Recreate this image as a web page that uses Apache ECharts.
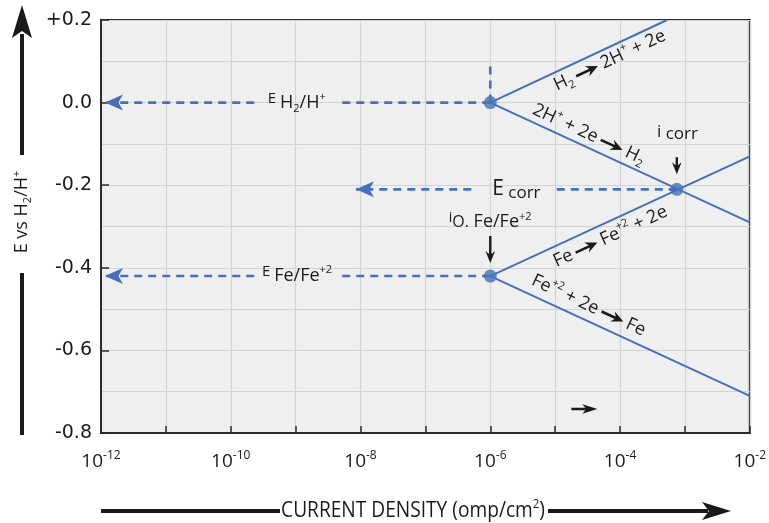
<!DOCTYPE html>
<html><head><meta charset="utf-8">
<script src="https://cdn.jsdelivr.net/npm/echarts@6/dist/echarts.min.js"></script>
<style>html,body{margin:0;padding:0;background:#fff}#c{width:769px;height:523px}</style>
</head><body><div id="c"></div>
<script>
// ---- data ----
const xLabelExponents = [-12, -10, -8, -6, -4, -2];
const yTickValues = [0.2, 0, -0.2, -0.4, -0.6, -0.8];
const yTickTexts = ['+0.2', '0.0', '-0.2', '-0.4', '-0.6', '-0.8'];
// Tafel lines [current density, potential]
const h2Anodic   = [[1e-6, 0.00], [5.3e-4, 0.20]];
const h2Cathodic = [[1e-6, 0.00], [1e-2, -0.29]];
const feAnodic   = [[1e-6, -0.42], [1e-2, -0.13]];
const feCathodic = [[1e-6, -0.42], [1e-2, -0.71]];
const keyPoints  = [[1e-6, 0.00], [1e-6, -0.42], [7.5e-4, -0.21]];
// dashed reference lines (pieces broken by the labels); last point carries the arrow
const h2Vertical = [[1e-6, 0.00], [1e-6, 0.09]];
const h2RefNear  = [[1e-6, 0.00], [4.5e-9, 0.00]];
const h2RefFar   = [[2.3e-10, 0.00], [1.15e-12, 0.00]];
const feRefNear  = [[1e-6, -0.42], [4.5e-9, -0.42]];
const feRefFar   = [[2.3e-10, -0.42], [1.15e-12, -0.42]];
const corrNear   = [[7.5e-4, -0.21], [1.03e-5, -0.21]];
const corrFar    = [[5.1e-7, -0.21], [8.5e-9, -0.21]];

const FONT = "'Open Sans', 'DejaVu Sans', sans-serif";
const BLUE = '#4670b8';
const INK = '#1a1a1a';

function solid(data) {
  return { type: 'line', data: data, symbol: 'none', lineStyle: { color: BLUE, width: 2 }, z: 3, silent: true };
}
function dashed(data, arrow) {
  return {
    type: 'line', z: 3, silent: true,
    data: data.map((p, i) => ({
      value: p,
      symbol: (arrow && i === data.length - 1) ? 'arrow' : 'none',
      symbolRotate: 90, symbolSize: [12, 18]
    })),
    showSymbol: true,
    itemStyle: { color: BLUE, borderWidth: 0 },
    lineStyle: { color: BLUE, width: 2.6, type: [8, 6] }
  };
}

const chart = echarts.init(document.getElementById('c'));
chart.setOption({
  animation: false,
  backgroundColor: '#ffffff',
  grid: { left: 101, right: 18, top: 20, bottom: 90, show: true, backgroundColor: '#efefef', borderColor: '#2a2a2a', borderWidth: 2 },
  xAxis: {
    type: 'log', logBase: 10, min: 1e-12, max: 1e-2, splitNumber: 10,
    axisLine: { show: true, onZero: false, lineStyle: { color: '#2a2a2a', width: 2 } },
    axisTick: { show: true, inside: true, length: 7, lineStyle: { color: '#2a2a2a', width: 1.5 } },
    splitLine: { show: true, lineStyle: { color: '#d3d3d3', width: 1.2 } },
    axisLabel: {
      margin: 17,
      formatter: function (v) {
        const e = Math.round(Math.log10(v));
        return xLabelExponents.indexOf(e) >= 0 ? '{b|10}{s|' + e + '}' : '';
      },
      rich: {
        b: { fontFamily: FONT, fontSize: 19, color: INK, lineHeight: 24 },
        s: { fontFamily: FONT, fontSize: 12, color: INK, verticalAlign: 'top', lineHeight: 12 }
      }
    }
  },
  yAxis: {
    type: 'value', min: -0.8, max: 0.2, interval: 0.2,
    axisLine: { show: true, onZero: false, lineStyle: { color: '#2a2a2a', width: 2 } },
    axisTick: { show: true, inside: true, length: 8, lineStyle: { color: '#2a2a2a', width: 1.5 } },
    splitLine: { show: true, lineStyle: { color: '#d3d3d3', width: 1.2 } },
    minorTick: { show: false, splitNumber: 2 },
    minorSplitLine: { show: true, lineStyle: { color: '#d3d3d3', width: 1.2 } },
    axisLabel: {
      margin: 9, color: INK, fontFamily: "'DejaVu Sans', sans-serif", fontSize: 19,
      formatter: function (v) {
        let best = 0;
        yTickValues.forEach((t, i) => { if (Math.abs(t - v) < Math.abs(yTickValues[best] - v)) best = i; });
        return yTickTexts[best];
      }
    }
  },
  series: [
    solid(h2Anodic), solid(h2Cathodic), solid(feAnodic), solid(feCathodic),
    dashed(h2Vertical, false),
    dashed(h2RefNear, false), dashed(h2RefFar, true),
    dashed(feRefNear, false), dashed(feRefFar, true),
    dashed(corrNear, false), dashed(corrFar, true),
    { type: 'scatter', data: keyPoints, symbolSize: 13, itemStyle: { color: BLUE }, z: 5, silent: true }
  ]
});

// ---- annotations ----
function px(p) { return chart.convertToPixel({ xAxisIndex: 0, yAxisIndex: 0 }, p); }
const richLbl = {
  m: { fontFamily: FONT, fontSize: 18, fill: INK, lineHeight: 23 },
  sup: { fontFamily: FONT, fontSize: 11, fill: INK, verticalAlign: 'top', lineHeight: 11 },
  sub: { fontFamily: FONT, fontSize: 11, fill: INK, verticalAlign: 'bottom', lineHeight: 11 },
  e: { fontFamily: FONT, fontSize: 15, fill: INK, verticalAlign: 'top', lineHeight: 16 },
  E: { fontFamily: FONT, fontSize: 21, fill: INK, lineHeight: 24 },
  c: { fontFamily: FONT, fontSize: 17, fill: INK, verticalAlign: 'bottom', lineHeight: 17 },
  i: { fontFamily: FONT, fontSize: 17, fill: INK, verticalAlign: 'top', lineHeight: 19 },
  io: { fontFamily: FONT, fontSize: 14, fill: INK, verticalAlign: 'top', lineHeight: 16 },
  o: { fontFamily: FONT, fontSize: 16, fill: INK, lineHeight: 21 }
};
function txt(p, text, align) {
  const q = px(p);
  return { type: 'text', x: q[0], y: q[1], z: 10, silent: true,
    style: { text: text, rich: richLbl, align: align || 'left', verticalAlign: 'middle', fill: INK, font: '18px ' + FONT } };
}
const rightArrow = [[-12, -1.3], [3, -1.3], [0, -5.5], [12, 0], [0, 5.5], [3, 1.3], [-12, 1.3]];
function rotLabel(line, logX, d, part1, part2) {
  const p1 = px(line[0]), p2 = px(line[1]);
  const ang = Math.atan2(-(p2[1] - p1[1]), p2[0] - p1[0]);
  const ax = px([Math.pow(10, logX), 0])[0];
  const t = (ax - p1[0]) / (p2[0] - p1[0]);
  const ay = p1[1] + t * (p2[1] - p1[1]);
  return { type: 'group', x: ax, y: ay, rotation: ang, z: 10, silent: true, children: [
    { type: 'text', x: -16, y: d, style: { text: part1, rich: richLbl, align: 'right', verticalAlign: 'middle', font: '18px ' + FONT } },
    { type: 'polygon', x: 0, y: d, shape: { points: rightArrow }, style: { fill: INK } },
    { type: 'text', x: 16, y: d, style: { text: part2, rich: richLbl, align: 'left', verticalAlign: 'middle', font: '18px ' + FONT } }
  ] };
}
function downArrow(p, gap, len) {
  const q = px(p);
  return { type: 'polygon', x: q[0], y: q[1] - gap, z: 10, silent: true,
    shape: { points: [[-1.2, -len], [1.2, -len], [1.2, -9], [4.8, -12], [0, 0], [-4.8, -12], [-1.2, -9]] },
    style: { fill: INK } };
}

const graphics = [
  txt([Math.pow(10, -9.43), 0.0], '{e|E }{m|H}{sub|2}{m|/H}{sup|+}'),
  txt([Math.pow(10, -5.97), -0.21], '{E|E}{c| corr}'),
  txt([Math.pow(10, -9.52), -0.42], '{e|E }{m|Fe/Fe}{sup|+2}'),
  txt([Math.pow(10, -3.43), -0.075], '{i|i}{c| corr}'),
  txt([Math.pow(10, -6.64), -0.29], '{io|i}{o|O.}{m| Fe/Fe}{sup|+2}'),
  downArrow(keyPoints[2], 15, 17),
  downArrow(keyPoints[1], 13, 27),
  (function () { const q = px([Math.pow(10, -4.55), -0.742]);
    return { type: 'polygon', x: q[0], y: q[1], z: 10, silent: true,
      shape: { points: [[-13, -1.2], [1, -1.2], [-2, -4.8], [13, 0], [-2, 4.8], [1, 1.2], [-13, 1.2]] }, style: { fill: INK } }; })(),
  rotLabel(h2Anodic, -4.59, 12.5, '{m|H}{sub|2}', '{m|2H}{sup|+}{m| + 2e}'),
  rotLabel(h2Cathodic, -4.21, -12.5, '{m|2H}{sup|+}{m| + 2e}', '{m|H}{sub|2}'),
  rotLabel(feAnodic, -4.61, 14.5, '{m|Fe}', '{m|Fe}{sup|+2}{m| + 2e}'),
  rotLabel(feCathodic, -4.21, -14.5, '{m|Fe}{sup|+2}{m| + 2e}', '{m|Fe}'),
  // axis titles with their long arrows
  { type: 'text', x: 22, y: 212, rotation: Math.PI / 2, silent: true,
    style: { text: '{n|E vs H}{sb|2}{n|/H}{sp|+}', align: 'center', verticalAlign: 'middle',
      rich: { n: { fontFamily: FONT, fontSize: 18, fill: INK, lineHeight: 22 },
              sb: { fontFamily: FONT, fontSize: 11, fill: INK, verticalAlign: 'bottom', lineHeight: 11 },
              sp: { fontFamily: FONT, fontSize: 11, fill: INK, verticalAlign: 'top', lineHeight: 11 } } } },
  { type: 'rect', shape: { x: 20, y: 34, width: 4, height: 121 }, style: { fill: INK }, silent: true },
  { type: 'rect', shape: { x: 20, y: 273, width: 4, height: 162 }, style: { fill: INK }, silent: true },
  { type: 'polygon', shape: { points: [[22, 5], [32, 38], [22, 31], [12, 38]] }, style: { fill: INK }, silent: true },
  { type: 'text', x: 413, y: 511, scaleX: 0.87, silent: true,
    style: { text: '{n|CURRENT DENSITY (omp/cm}{sp|2}{n|)}', align: 'center', verticalAlign: 'middle',
      rich: { n: { fontFamily: FONT, fontSize: 22, fill: INK, lineHeight: 26 },
              sp: { fontFamily: FONT, fontSize: 13, fill: INK, verticalAlign: 'top', lineHeight: 14 } } } },
  { type: 'rect', shape: { x: 101, y: 509, width: 179, height: 4 }, style: { fill: INK }, silent: true },
  { type: 'rect', shape: { x: 548, y: 509, width: 160, height: 4 }, style: { fill: INK }, silent: true },
  { type: 'polygon', shape: { points: [[731, 511], [702, 502], [709, 511], [702, 520]] }, style: { fill: INK }, silent: true }
];
chart.setOption({ graphic: graphics });
</script>
</body></html>
